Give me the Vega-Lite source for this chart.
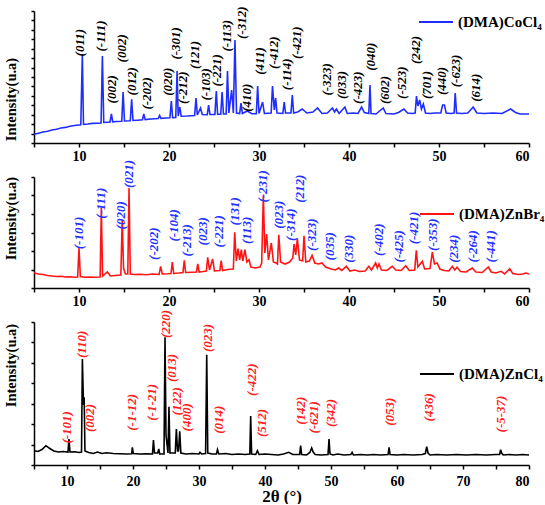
{
  "$schema": "https://vega.github.io/schema/vega-lite/v6.json",
  "padding": {"left": 3, "top": 4, "right": 0, "bottom": 0},
  "background": "white",
  "datasets": {
    "co": [
      {"x":5.0,"y":8.7},{"x":5.5,"y":9.8},{"x":6.0,"y":11.0},{"x":6.5,"y":11.8},{"x":7.0,"y":13.0},{"x":7.5,"y":13.8},{"x":8.0,"y":15.0},{"x":8.5,"y":15.6},{"x":9.0,"y":16.8},{"x":9.5,"y":17.5},{"x":10.2,"y":18.3},{"x":10.37,"y":88.7},{"x":10.5,"y":18.6},{"x":11.0,"y":19.0},{"x":11.5,"y":19.6},{"x":12.0,"y":19.8},{"x":12.45,"y":20.0},{"x":12.6,"y":87},{"x":12.75,"y":20.5},{"x":13.2,"y":20.8},{"x":13.45,"y":21},{"x":13.6,"y":29},{"x":13.75,"y":21.2},{"x":14.2,"y":21.5},{"x":14.75,"y":21.8},{"x":14.9,"y":51},{"x":15.05,"y":22},{"x":15.7,"y":22.3},{"x":15.85,"y":43.7},{"x":16.0,"y":22.5},{"x":16.5,"y":22.8},{"x":17.05,"y":23.2},{"x":17.2,"y":29},{"x":17.35,"y":23.4},{"x":18.0,"y":24},{"x":18.8,"y":24.5},{"x":18.95,"y":27.5},{"x":19.1,"y":24.6},{"x":19.7,"y":25},{"x":20.1,"y":25.2},{"x":20.26,"y":42},{"x":20.4,"y":25.4},{"x":20.75,"y":25.6},{"x":20.9,"y":72},{"x":21.02,"y":27},{"x":21.2,"y":36},{"x":21.35,"y":26.8},{"x":22.0,"y":27},{"x":22.5,"y":27.3},{"x":22.85,"y":27.5},{"x":23.0,"y":45},{"x":23.15,"y":28},{"x":23.5,"y":35},{"x":23.7,"y":28.5},{"x":24.25,"y":28.3},{"x":24.4,"y":38},{"x":24.55,"y":28.5},{"x":25.1,"y":28.6},{"x":25.26,"y":52},{"x":25.4,"y":28.8},{"x":25.75,"y":28.8},{"x":25.9,"y":51},{"x":26.05,"y":29},{"x":26.35,"y":29},{"x":26.5,"y":72},{"x":26.65,"y":30},{"x":26.96,"y":53},{"x":27.15,"y":30},{"x":27.33,"y":103},{"x":27.5,"y":30},{"x":27.85,"y":29.5},{"x":28.0,"y":40},{"x":28.15,"y":29.5},{"x":28.7,"y":32},{"x":29.2,"y":29.2},{"x":29.7,"y":29.3},{"x":29.85,"y":57},{"x":30.0,"y":29.5},{"x":30.4,"y":41},{"x":30.6,"y":29.5},{"x":31.0,"y":29.8},{"x":31.35,"y":30},{"x":31.5,"y":57},{"x":31.7,"y":33},{"x":31.85,"y":45},{"x":32.0,"y":30},{"x":32.65,"y":29.5},{"x":32.8,"y":41},{"x":32.95,"y":30},{"x":33.3,"y":30},{"x":33.55,"y":30},{"x":33.7,"y":48},{"x":33.85,"y":30},{"x":34.3,"y":31},{"x":34.8,"y":34},{"x":35.3,"y":30},{"x":36.0,"y":31},{"x":36.5,"y":35},{"x":37.0,"y":29.5},{"x":37.6,"y":30},{"x":38.15,"y":35},{"x":38.4,"y":31},{"x":38.6,"y":34},{"x":38.9,"y":29.5},{"x":39.55,"y":36},{"x":39.8,"y":29.5},{"x":40.5,"y":30},{"x":41.0,"y":29.5},{"x":41.4,"y":36},{"x":41.7,"y":30.5},{"x":42.2,"y":29.5},{"x":42.33,"y":58},{"x":42.45,"y":29.5},{"x":43.0,"y":29},{"x":43.8,"y":35},{"x":44.1,"y":29.5},{"x":45.0,"y":29},{"x":45.5,"y":30.5},{"x":46.1,"y":34},{"x":46.5,"y":30},{"x":47.0,"y":29.5},{"x":47.35,"y":30},{"x":47.5,"y":47},{"x":47.65,"y":37},{"x":47.85,"y":43},{"x":48.05,"y":34},{"x":48.26,"y":39},{"x":48.5,"y":30},{"x":49.0,"y":29.5},{"x":49.5,"y":30},{"x":50.2,"y":30},{"x":50.4,"y":38},{"x":50.6,"y":38},{"x":50.8,"y":30},{"x":51.3,"y":29.5},{"x":51.68,"y":30},{"x":51.8,"y":50},{"x":51.95,"y":30},{"x":52.5,"y":29.5},{"x":53.2,"y":30},{"x":53.8,"y":36},{"x":54.2,"y":30},{"x":55.0,"y":29.5},{"x":56.0,"y":30},{"x":57.0,"y":29.5},{"x":57.96,"y":34},{"x":58.5,"y":30.5},{"x":59.0,"y":29},{"x":60.0,"y":29}
    ],
    "colab": [
      {"x":10.11,"y":100.3,"t":"(011)"},{"x":12.4,"y":107,"t":"(-111)"},{"x":13.7,"y":53.7,"t":"(002)"},{"x":14.74,"y":94.7,"t":"(002)"},{"x":15.9,"y":61.7,"t":"(012)"},{"x":17.5,"y":49.7,"t":"(-202)"},{"x":19.93,"y":61.3,"t":"(020)"},{"x":20.74,"y":99.7,"t":"(-301)"},{"x":21.56,"y":55.3,"t":"(-212)"},{"x":22.9,"y":88,"t":"(121)"},{"x":24.15,"y":58.7,"t":"(-103)"},{"x":25.37,"y":72.7,"t":"(-221)"},{"x":26.4,"y":107.3,"t":"(-113)"},{"x":28.07,"y":120.3,"t":"(-312)"},{"x":28.63,"y":45.3,"t":"(410)"},{"x":30.1,"y":82,"t":"(411)"},{"x":31.67,"y":90.3,"t":"(-412)"},{"x":33.15,"y":68.7,"t":"(-114)"},{"x":34.26,"y":100.3,"t":"(-421)"},{"x":37.5,"y":63.7,"t":"(-323)"},{"x":39.26,"y":58,"t":"(033)"},{"x":41.04,"y":55.3,"t":"(-423)"},{"x":42.4,"y":86.3,"t":"(040)"},{"x":44.0,"y":53,"t":"(602)"},{"x":45.85,"y":60.3,"t":"(-523)"},{"x":47.4,"y":93,"t":"(242)"},{"x":48.7,"y":58,"t":"(701)"},{"x":50.37,"y":62,"t":"(440)"},{"x":51.85,"y":72,"t":"(-623)"},{"x":54.07,"y":55.3,"t":"(614)"}
    ],
    "br": [
      {"x":5.0,"y":15},{"x":5.5,"y":14},{"x":6.0,"y":13.5},{"x":6.5,"y":12.5},{"x":7.0,"y":12},{"x":7.5,"y":11.5},{"x":8.0,"y":11.8},{"x":8.5,"y":11},{"x":9.0,"y":11.2},{"x":9.5,"y":10.8},{"x":9.85,"y":11},{"x":10.0,"y":40},{"x":10.15,"y":11.5},{"x":10.6,"y":10.8},{"x":11.2,"y":11},{"x":11.8,"y":10.7},{"x":12.35,"y":11},{"x":12.48,"y":80},{"x":12.62,"y":12},{"x":13.15,"y":16},{"x":13.5,"y":12},{"x":14.0,"y":12.5},{"x":14.65,"y":13},{"x":14.8,"y":68.3},{"x":14.95,"y":20},{"x":15.15,"y":14},{"x":15.42,"y":14},{"x":15.56,"y":100},{"x":15.7,"y":14},{"x":16.2,"y":13.5},{"x":16.8,"y":13.8},{"x":17.5,"y":13.3},{"x":18.2,"y":14},{"x":18.9,"y":13.5},{"x":19.07,"y":21.7},{"x":19.25,"y":14},{"x":19.8,"y":14.2},{"x":20.22,"y":14.5},{"x":20.37,"y":26},{"x":20.52,"y":14.5},{"x":21.1,"y":15},{"x":21.55,"y":15.5},{"x":21.7,"y":27.7},{"x":21.85,"y":15.5},{"x":22.5,"y":15.8},{"x":23.05,"y":16},{"x":23.2,"y":24},{"x":23.35,"y":16},{"x":23.8,"y":16.5},{"x":24.15,"y":17},{"x":24.3,"y":30.7},{"x":24.5,"y":18},{"x":24.85,"y":29},{"x":25.05,"y":17},{"x":25.65,"y":17.5},{"x":25.8,"y":27.3},{"x":25.95,"y":17.5},{"x":26.5,"y":18.5},{"x":27.15,"y":19},{"x":27.3,"y":55.7},{"x":27.48,"y":27},{"x":27.67,"y":39.3},{"x":27.85,"y":28},{"x":28.04,"y":38.3},{"x":28.2,"y":27},{"x":28.44,"y":38.3},{"x":28.65,"y":26},{"x":28.89,"y":28.3},{"x":29.1,"y":21},{"x":29.6,"y":20},{"x":30.1,"y":21},{"x":30.3,"y":25},{"x":30.48,"y":92.7},{"x":30.65,"y":35},{"x":30.85,"y":54},{"x":31.05,"y":28},{"x":31.37,"y":45},{"x":31.6,"y":26},{"x":31.9,"y":25},{"x":32.05,"y":24},{"x":32.2,"y":53.3},{"x":32.4,"y":26},{"x":32.9,"y":24},{"x":33.4,"y":26},{"x":33.75,"y":30},{"x":33.9,"y":44},{"x":34.08,"y":33},{"x":34.26,"y":49.3},{"x":34.5,"y":28},{"x":34.85,"y":27},{"x":35.0,"y":52.3},{"x":35.2,"y":26},{"x":35.6,"y":27},{"x":35.9,"y":32.7},{"x":36.2,"y":25},{"x":36.6,"y":24},{"x":37.0,"y":25},{"x":37.4,"y":21},{"x":38.0,"y":19},{"x":38.5,"y":18},{"x":38.85,"y":20},{"x":39.2,"y":17.5},{"x":39.7,"y":21.7},{"x":40.1,"y":17},{"x":40.6,"y":18},{"x":41.2,"y":16.5},{"x":41.8,"y":17},{"x":42.2,"y":21.7},{"x":42.5,"y":18},{"x":42.96,"y":25},{"x":43.15,"y":20},{"x":43.33,"y":24},{"x":43.6,"y":18},{"x":44.2,"y":17.5},{"x":44.8,"y":21.7},{"x":45.2,"y":18},{"x":45.8,"y":17.5},{"x":46.3,"y":22.3},{"x":46.7,"y":17.5},{"x":47.3,"y":18},{"x":47.48,"y":37.7},{"x":47.65,"y":21},{"x":48.15,"y":26.7},{"x":48.4,"y":19},{"x":49.0,"y":19.5},{"x":49.26,"y":36},{"x":49.5,"y":24},{"x":49.8,"y":25},{"x":50.1,"y":19},{"x":50.6,"y":17.5},{"x":51.1,"y":17},{"x":51.48,"y":21.7},{"x":51.75,"y":18},{"x":52.0,"y":20.7},{"x":52.4,"y":16.5},{"x":53.0,"y":16},{"x":53.7,"y":20},{"x":54.1,"y":16},{"x":54.8,"y":15.5},{"x":55.48,"y":21},{"x":55.8,"y":16},{"x":56.3,"y":15},{"x":56.9,"y":16.7},{"x":57.3,"y":14},{"x":57.85,"y":19.3},{"x":58.2,"y":14.5},{"x":58.8,"y":13.5},{"x":59.3,"y":14},{"x":59.63,"y":15},{"x":60.0,"y":14}
    ],
    "brlab": [
      {"x":10.04,"y":55,"t":"(-101)"},{"x":12.41,"y":84.7,"t":"(-111)"},{"x":14.63,"y":72.7,"t":"(020)"},{"x":15.56,"y":114,"t":"(021)"},{"x":18.33,"y":44.3,"t":"(-202)"},{"x":20.56,"y":62.7,"t":"(-104)"},{"x":21.96,"y":47.7,"t":"(-213)"},{"x":23.8,"y":56.7,"t":"(023)"},{"x":25.55,"y":56.7,"t":"(-221)"},{"x":27.33,"y":76.7,"t":"(131)"},{"x":28.7,"y":57.7,"t":"(113)"},{"x":30.48,"y":101.7,"t":"(-231)"},{"x":32.2,"y":73.3,"t":"(023)"},{"x":33.5,"y":63.3,"t":"(-314)"},{"x":34.55,"y":99.3,"t":"(212)"},{"x":35.9,"y":53.3,"t":"(-323)"},{"x":37.85,"y":41.7,"t":"(035)"},{"x":40.0,"y":39.3,"t":"(330)"},{"x":43.33,"y":48.3,"t":"(-402)"},{"x":45.56,"y":41.7,"t":"(-425)"},{"x":47.2,"y":60,"t":"(-421)"},{"x":49.33,"y":53.3,"t":"(-353)"},{"x":51.67,"y":39.3,"t":"(234)"},{"x":53.78,"y":41.7,"t":"(-264)"},{"x":55.8,"y":41.7,"t":"(-441)"}
    ],
    "cl": [
      {"x":5.0,"y":14.3},{"x":5.6,"y":13.5},{"x":6.2,"y":15.5},{"x":6.8,"y":19.3},{"x":7.4,"y":16.5},{"x":8.0,"y":14},{"x":8.7,"y":13},{"x":9.4,"y":13.5},{"x":10.15,"y":13},{"x":10.3,"y":26},{"x":10.45,"y":13},{"x":11.2,"y":13.3},{"x":11.8,"y":12.5},{"x":12.2,"y":13},{"x":12.33,"y":106},{"x":12.5,"y":60},{"x":12.6,"y":67.7},{"x":12.72,"y":14},{"x":13.3,"y":12.5},{"x":14.0,"y":11.5},{"x":14.6,"y":13},{"x":15.3,"y":11.5},{"x":16.0,"y":12.2},{"x":17.0,"y":11.5},{"x":18.0,"y":11.2},{"x":19.0,"y":11},{"x":19.8,"y":11.2},{"x":19.9,"y":17.7},{"x":20.05,"y":11.5},{"x":21.0,"y":11},{"x":22.0,"y":11.3},{"x":22.95,"y":11},{"x":23.1,"y":25},{"x":23.25,"y":12},{"x":23.75,"y":12},{"x":23.9,"y":16},{"x":24.05,"y":11},{"x":24.7,"y":11},{"x":24.85,"y":127.7},{"x":25.0,"y":30},{"x":25.3,"y":12},{"x":25.45,"y":58.3},{"x":25.6,"y":12},{"x":26.4,"y":12},{"x":26.57,"y":36},{"x":26.75,"y":14},{"x":26.9,"y":14},{"x":27.08,"y":33.7},{"x":27.25,"y":12},{"x":28.0,"y":11},{"x":29.0,"y":11.5},{"x":30.0,"y":11},{"x":30.15,"y":12.7},{"x":30.4,"y":11},{"x":31.0,"y":11.5},{"x":31.17,"y":110.3},{"x":31.33,"y":12},{"x":32.0,"y":11},{"x":32.65,"y":11},{"x":32.8,"y":15.3},{"x":33.0,"y":11},{"x":34.0,"y":11.5},{"x":35.0,"y":10.5},{"x":36.0,"y":11},{"x":37.0,"y":10.5},{"x":37.7,"y":11},{"x":37.83,"y":49},{"x":37.97,"y":11},{"x":38.6,"y":10.5},{"x":38.85,"y":14.3},{"x":39.1,"y":10.5},{"x":40.0,"y":11},{"x":41.0,"y":10.5},{"x":42.0,"y":10},{"x":42.8,"y":11},{"x":43.6,"y":12.7},{"x":44.2,"y":10.5},{"x":45.25,"y":10.5},{"x":45.4,"y":19.3},{"x":45.55,"y":10.5},{"x":46.3,"y":10},{"x":46.8,"y":12.5},{"x":47.07,"y":17},{"x":47.3,"y":13},{"x":47.6,"y":10.5},{"x":48.5,"y":10},{"x":49.55,"y":10.5},{"x":49.7,"y":26},{"x":49.85,"y":11},{"x":50.3,"y":10},{"x":51.0,"y":11},{"x":52.0,"y":10},{"x":53.0,"y":10.5},{"x":53.2,"y":12.7},{"x":53.4,"y":10},{"x":54.5,"y":10.5},{"x":55.5,"y":10},{"x":56.5,"y":10.5},{"x":57.5,"y":10},{"x":58.65,"y":10.5},{"x":58.8,"y":17.7},{"x":58.95,"y":10.5},{"x":60.0,"y":10},{"x":61.0,"y":10.5},{"x":62.5,"y":10},{"x":63.8,"y":10.5},{"x":64.3,"y":11.5},{"x":64.5,"y":18.3},{"x":64.7,"y":12},{"x":65.0,"y":10},{"x":66.0,"y":10.5},{"x":67.5,"y":10},{"x":69.0,"y":10.5},{"x":70.5,"y":10},{"x":72.0,"y":10.5},{"x":73.5,"y":10},{"x":75.0,"y":10.5},{"x":75.55,"y":10.5},{"x":75.7,"y":15.3},{"x":75.85,"y":12},{"x":76.1,"y":10},{"x":77.0,"y":10.5},{"x":78.0,"y":10},{"x":79.0,"y":10.5},{"x":80.0,"y":10}
    ],
    "cllab": [
      {"x":10.05,"y":37.7,"t":"(-101)"},{"x":12.2,"y":120.7,"t":"(110)"},{"x":13.5,"y":47,"t":"(002)"},{"x":19.8,"y":52.7,"t":"(-1-12)"},{"x":22.9,"y":62.7,"t":"(-1-21)"},{"x":24.95,"y":141,"t":"(220)"},{"x":25.97,"y":97,"t":"(013)"},{"x":26.7,"y":63.7,"t":"(122)"},{"x":28.2,"y":47.7,"t":"(400)"},{"x":31.4,"y":127,"t":"(023)"},{"x":33.0,"y":45.3,"t":"(014)"},{"x":38.1,"y":85.3,"t":"(-422)"},{"x":39.5,"y":42,"t":"(512)"},{"x":45.4,"y":54.3,"t":"(142)"},{"x":47.4,"y":47.7,"t":"(-621)"},{"x":49.95,"y":52,"t":"(342)"},{"x":58.9,"y":53.3,"t":"(053)"},{"x":64.85,"y":57.7,"t":"(436)"},{"x":75.7,"y":51,"t":"(-5-37)"}
    ]
  },
  "spacing": 34,
  "bounds": "flush",
  "resolve": {"scale": {"x": "independent", "y": "independent", "color": "independent"}, "legend": {"color": "independent"}},
  "vconcat": [
    {
      "width": 495, "height": 132,
      "encoding": {
        "x": {"field": "x", "type": "quantitative", "scale": {"domain": [5, 60], "nice": false, "zero": false},
              "axis": {"title": null, "values": [5,10,15,20,25,30,35,40,45,50,55,60], "labelOverlap": false, "labelExpr": "datum.value % 10 === 0 ? datum.label : ''"}},
        "y": {"field": "y", "type": "quantitative", "scale": {"domain": [0, 132], "nice": false},
              "axis": {"title": "Intensity(u.a)", "labels": false, "values": [0,9.43,18.86,28.29,37.71,47.14,56.57,66,75.43,84.86,94.29,103.71,113.14,122.57,132], "tickSize": 3, "titleX": -22.5, "titleY": 88, "titleBaseline": "middle", "titleAlign": "center"}}
      },
      "layer": [
        {
          "data": {"name": "co"},
          "mark": {"type": "line", "strokeWidth": 1.6},
          "encoding": {
            "color": {"datum": "(DMA)CoCl₄", "scale": {"range": ["#1f2dff"]},
                      "legend": {"orient": "none", "legendX": 384, "legendY": -7, "title": null, "symbolType": "stroke", "symbolSize": 1156, "symbolStrokeWidth": 2, "labelFont": "Liberation Serif", "labelFontWeight": "bold", "labelFontSize": 15, "labelColor": "black", "labelOffset": 4, "padding": 0}}
          }
        },
        {
          "data": {"name": "colab"},
          "mark": {"type": "text", "angle": 270, "align": "center", "baseline": "middle", "font": "Liberation Serif", "fontStyle": "italic", "fontWeight": "bold", "fontSize": 13, "color": "black"},
          "encoding": {"text": {"field": "t"}}
        }
      ]
    },
    {
      "width": 495, "height": 111,
      "encoding": {
        "x": {"field": "x", "type": "quantitative", "scale": {"domain": [5, 60], "nice": false, "zero": false},
              "axis": {"title": null, "values": [5,10,15,20,25,30,35,40,45,50,55,60], "labelOverlap": false, "labelExpr": "datum.value % 10 === 0 ? datum.label : ''"}},
        "y": {"field": "y", "type": "quantitative", "scale": {"domain": [0, 111], "nice": false},
              "axis": {"title": "Intensity(u.a)", "labels": false, "values": [0,18.5,37,55.5,74,92.5,111], "tickSize": 3, "titleX": -22.5, "titleY": 41, "titleBaseline": "middle", "titleAlign": "center"}}
      },
      "layer": [
        {
          "data": {"name": "br"},
          "mark": {"type": "line", "strokeWidth": 1.6},
          "encoding": {
            "color": {"datum": "(DMA)ZnBr₄", "scale": {"range": ["#ff1414"]},
                      "legend": {"orient": "none", "legendX": 385, "legendY": 19, "title": null, "symbolType": "stroke", "symbolSize": 1156, "symbolStrokeWidth": 2, "labelFont": "Liberation Serif", "labelFontWeight": "bold", "labelFontSize": 15, "labelColor": "black", "labelOffset": 4, "padding": 0}}
          }
        },
        {
          "data": {"name": "brlab"},
          "mark": {"type": "text", "angle": 270, "align": "center", "baseline": "middle", "font": "Liberation Serif", "fontStyle": "italic", "fontWeight": "bold", "fontSize": 13, "color": "#2433ff"},
          "encoding": {"text": {"field": "t"}}
        }
      ]
    },
    {
      "width": 495, "height": 143,
      "encoding": {
        "x": {"field": "x", "type": "quantitative", "scale": {"domain": [5, 80], "nice": false, "zero": false},
              "axis": {"title": "2θ (°)", "titleFontSize": 17, "titlePadding": 0, "labelPadding": 5, "labelOverlap": false, "values": [5,10,15,20,25,30,35,40,45,50,55,60,65,70,75,80], "labelExpr": "datum.value % 10 === 0 ? datum.label : ''"}},
        "y": {"field": "y", "type": "quantitative", "scale": {"domain": [0, 143], "nice": false},
              "axis": {"title": "Intensity(u.a)", "labels": false, "values": [0,20.43,40.86,61.29,81.71,102.14,122.57,143], "tickSize": 3, "titleX": -22.5, "titleY": 43, "titleBaseline": "middle", "titleAlign": "center"}}
      },
      "layer": [
        {
          "data": {"name": "cl"},
          "mark": {"type": "line", "strokeWidth": 1.6},
          "encoding": {
            "color": {"datum": "(DMA)ZnCl₄", "scale": {"range": ["#000000"]},
                      "legend": {"orient": "none", "legendX": 385, "legendY": 34, "title": null, "symbolType": "stroke", "symbolSize": 1156, "symbolStrokeWidth": 2, "labelFont": "Liberation Serif", "labelFontWeight": "bold", "labelFontSize": 15, "labelColor": "black", "labelOffset": 4, "padding": 0}}
          }
        },
        {
          "data": {"name": "cllab"},
          "mark": {"type": "text", "angle": 270, "align": "center", "baseline": "middle", "font": "Liberation Serif", "fontStyle": "italic", "fontWeight": "bold", "fontSize": 13, "color": "#ff2020"},
          "encoding": {"text": {"field": "t"}}
        }
      ]
    }
  ],
  "config": {
    "view": {"stroke": null},
    "axis": {"grid": false, "domainColor": "black", "domainWidth": 1.5, "tickColor": "black", "tickWidth": 1.5, "tickSize": 4, "labelPadding": 2, "labelFont": "Liberation Serif", "labelFontWeight": "bold", "labelFontSize": 14, "labelColor": "black", "titleFont": "Liberation Serif", "titleFontWeight": "bold", "titleFontSize": 14.5, "titleColor": "black"}
  }
}
